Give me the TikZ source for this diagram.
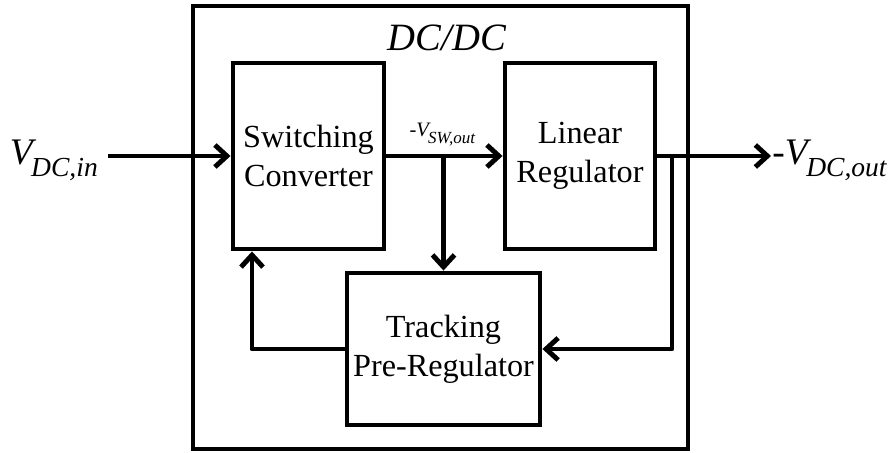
\documentclass[tikz,border=0pt]{standalone}
\usepackage{fontspec}
\setmainfont{Liberation Serif}
\usepackage{xcolor}
\usepackage{tikz}
\usetikzlibrary{arrows.meta}
\definecolor{InkColor}{HTML}{000000}
\definecolor{PaperColor}{HTML}{FFFFFF}
% italic V with a lowered subscript: #1 size of V, #2 size of subscript, #3 subscript, #4 prefix
\newcommand{\voltlabel}[4]{%
	{\itshape\fontsize{#1}{#1}\selectfont #4V\kern-0.04em\raisebox{-0.3em}{\fontsize{#2}{#2}\selectfont #3}}}
\tikzset{
	blockbox/.style={draw=InkColor, line width=4.2pt, fill=PaperColor, align=center,
		font=\fontsize{27.5}{33}\selectfont, inner sep=0pt},
	sigline/.style={draw=InkColor, line width=4.2pt, line join=round,
		-{Straight Barb[length=0.36cm, width=0.66cm]}},
}

\begin{document}
\begin{tikzpicture}[x=1cm,y=1cm]
	\useasboundingbox (0,0) rectangle (26.79,13.56);
	\fill[PaperColor] (0,0) rectangle (26.79,13.56);

	% Enclosing DC/DC block
	\node[blockbox, fill=none, minimum width=14.85cm, minimum height=13.29cm] (dcdc) at (13.215,6.735) {};
	\node[font=\itshape\fontsize{33}{38}\selectfont, text=InkColor] (dcdctitle) at (13.41,12.42) {DC/DC};

	% Inner blocks
	\node[blockbox, minimum width=4.53cm, minimum height=5.58cm] (sw) at (9.255,8.88) {Switching\\Converter};
	\node[blockbox, minimum width=4.50cm, minimum height=5.58cm] (lin) at (17.40,8.88) {Linear\\Regulator};
	\node[blockbox, minimum width=5.79cm, minimum height=4.56cm] (trk) at (13.305,3.09) {Tracking\\Pre-Regulator};

	% Terminal labels
	\node[anchor=base east, inner sep=0.30cm] (vin) at (3.24,8.61) {\voltlabel{32}{23.5}{DC,in}{}};
	\node[anchor=base west, inner sep=1pt] (vout) at (23.13,8.61) {\voltlabel{32}{23.5}{DC,out}{-}};
	\node[anchor=base, inner sep=1pt] (vsw) at (13.27,9.45) {\voltlabel{17.5}{14.5}{SW,out}{-}};

	% Branch points
	\coordinate (split) at (trk.north |- sw.east);
	\coordinate (tap) at (20.16,8.88);
	\coordinate (fbl) at (7.56,0 |- sw.south);

	% Connectors
	\draw[sigline] (vin.east |- sw.west) -- (sw.west);
	\draw[sigline] (sw.east) -- (lin.west);
	\draw[sigline] (split) -- (trk.north);
	\draw[sigline] (lin.east) -- (vout.west |- lin.east);
	\draw[sigline] (tap) |- (trk.east);
	\draw[sigline] (trk.west) -| (fbl);
\end{tikzpicture}
\end{document}
